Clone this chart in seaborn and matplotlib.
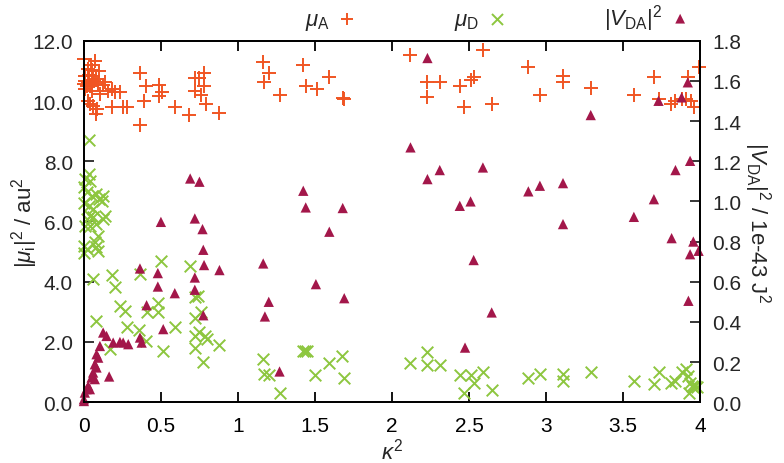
import numpy as np
import pandas as pd
import seaborn as sns
import matplotlib.pyplot as plt
from matplotlib.ticker import FormatStrFormatter

# kappa^2 and |mu_A|^2 (orange +)
kappa_a = [0, 0.071, 0.043, 0.028, 0.05, 0.10, 0.006, 0.034, 0.06, 0.078,
           0.006, 0.028, 0.05, 0.065, 0, 0.017, 0.039, 0.093, 0.125, 0.136,
           0.006, 0.05, 0.104, 0.158, 0.18, 0.2, 0.234, 0.028, 0.039, 0.06,
           0.082, 0.078, 0.18, 0.255, 0.277, 0.364, 0.403, 0.39, 0.364, 0.49,
           0.504, 0.49, 0.59, 0.684, 0.72, 0.75, 0.78, 0.78, 0.72, 0.76,
           0.79, 0.88, 1.164, 1.20, 1.17, 1.27, 1.42, 1.44, 1.51, 1.59,
           1.68, 1.69, 2.12, 2.23, 2.31, 2.225, 2.44, 2.51, 2.53, 2.59,
           2.47, 2.65, 2.885, 2.96, 3.11, 3.11, 3.29, 3.57, 3.70, 3.73,
           3.81, 3.84, 3.88, 3.91, 3.92, 3.94, 3.96, 3.99]
mu_a = [11.40, 11.34, 11.2, 11.06, 11.04, 11.0, 10.84, 10.86, 10.82, 10.73,
        10.67, 10.62, 10.64, 10.67, 10.57, 10.51, 10.49, 10.57, 10.53, 10.62,
        10.4, 10.34, 10.23, 10.34, 10.4, 10.31, 10.31, 10.01, 9.9, 9.82,
        9.73, 9.57, 9.79, 9.79, 9.79, 10.93, 10.51, 10.01, 9.2, 10.53,
        10.29, 10.18, 9.79, 9.53, 10.78, 10.78, 10.92, 10.5, 10.34, 10.2,
        9.9, 9.6, 11.3, 10.92, 10.62, 10.21, 11.2, 10.51, 10.4, 10.81,
        10.1, 10.08, 11.53, 10.62, 10.62, 10.12, 10.51, 10.71, 10.81, 11.7,
        9.81, 9.9, 11.12, 10.21, 10.84, 10.62, 10.42, 10.21, 10.81, 10.07,
        9.9, 10.01, 10.07, 10.07, 10.79, 10.01, 9.79, 11.12]

# kappa^2 and |mu_D|^2 (green x)
kappa_d = [0.03, 0.03, 0.039, 0.006, 0, 0.017, 0.05, 0.08, 0.10, 0.125,
           0.115, 0, 0.03, 0.06, 0.04, 0.017, 0.06, 0.125, 0.136, 0.006,
           0.04, 0.08, 0.093, 0.07, 0.08, 0, 0.017, 0.093, 0, 0.06,
           0.18, 0.2, 0.364, 0.234, 0.266, 0.277, 0.36, 0.40, 0.41, 0.48,
           0.48, 0.515, 0.59, 0.08, 0.17, 0.50, 0.69, 0.72, 0.74, 0.72,
           0.76, 0.72, 0.75, 0.785, 0.80, 0.72, 0.77, 0.88, 1.164, 1.17,
           1.20, 1.27, 1.50, 1.42, 1.435, 1.446, 1.59, 1.677, 1.69, 2.12,
           2.23, 2.23, 2.31, 2.44, 2.51, 2.59, 2.53, 2.47, 2.65, 2.885,
           2.96, 3.11, 3.11, 3.29, 3.57, 3.70, 3.73, 3.81, 3.84, 3.88,
           3.91, 3.92, 3.935, 3.946, 3.925, 3.956, 3.98, 3.97]
mu_d = [8.71, 7.57, 7.35, 7.41, 7.13, 6.97, 6.85, 6.91, 6.74, 6.85,
        6.69, 6.63, 6.52, 6.41, 6.19, 6.08, 6.14, 6.08, 6.19, 5.86,
        5.86, 5.91, 5.52, 5.31, 5.14, 5.19, 5.08, 5.03, 4.97, 4.1,
        4.22, 3.81, 4.25, 3.2, 3.03, 2.51, 2.40, 2.04, 2.98, 3.31,
        2.98, 1.70, 2.51, 2.70, 1.78, 4.69, 4.53, 3.48, 3.53, 2.81,
        2.98, 2.20, 2.32, 2.20, 2.09, 1.79, 1.32, 1.89, 1.43, 0.93,
        0.90, 0.32, 0.90, 1.70, 1.70, 1.70, 1.30, 1.52, 0.80, 1.30,
        1.68, 1.24, 1.24, 0.91, 0.91, 0.99, 0.63, 0.32, 0.41, 0.80,
        0.93, 0.93, 0.71, 0.99, 0.69, 0.62, 0.99, 0.63, 0.71, 0.99,
        1.10, 0.87, 0.65, 0.54, 0.32, 0.49, 0.49, 0.54]

# kappa^2 and |V_DA|^2 in 1e-43 J^2 (maroon triangles, right axis)
kappa_v = [2.23, 2.12, 2.31, 2.23, 2.59, 2.44, 2.51, 2.885, 2.96, 1.424,
           1.44, 1.68, 1.593, 1.506, 1.69, 2.53, 2.647, 2.474, 3.92, 3.88,
           3.73, 3.29, 3.11, 3.11, 3.57, 3.70, 3.84, 3.935, 3.815, 3.956,
           3.935, 3.99, 3.924, 0.69, 0.75, 0.50, 0.72, 0.77, 0.775, 0.78,
           0.88, 1.164, 0.364, 0.48, 0.72, 0.48, 0.72, 0.59, 0.407, 0.775,
           0.515, 1.20, 1.175, 1.27, 0.364, 0.375, 0.19, 0.234, 0.255, 0.288,
           0.125, 0.147, 0.104, 0.164, 0.082, 0.093, 0.071, 0.082, 0.06, 0.05,
           0.071, 0.028, 0.039, 0.006, 0, 0.017, 0]
v_da = [1.714, 1.269, 1.156, 1.111, 1.169, 0.978, 1.0, 1.05, 1.078, 1.053,
        0.97, 0.967, 0.849, 0.588, 0.518, 0.708, 0.447, 0.272, 1.593, 1.518,
        1.501, 1.43, 1.091, 0.887, 0.923, 1.011, 1.156, 1.202, 0.817, 0.80,
        0.737, 0.754, 0.505, 1.114, 1.098, 0.898, 0.915, 0.862, 0.759, 0.683,
        0.658, 0.691, 0.666, 0.643, 0.621, 0.576, 0.56, 0.543, 0.483, 0.433,
        0.364, 0.50, 0.427, 0.153, 0.322, 0.297, 0.297, 0.30, 0.297, 0.289,
        0.347, 0.33, 0.28, 0.128, 0.239, 0.222, 0.189, 0.173, 0.148, 0.123,
        0.115, 0.081, 0.065, 0.048, 0.015, 0.065, 0.006]

col_a = '#f05523'
col_d = '#8dc63f'
col_v = '#a3174a'

sns.set_style('ticks')
plt.rcParams['font.family'] = ['Liberation Sans', 'DejaVu Sans']
plt.rcParams['mathtext.fontset'] = 'custom'
plt.rcParams['mathtext.rm'] = 'Liberation Sans'
plt.rcParams['mathtext.it'] = 'Liberation Sans:italic'
plt.rcParams['mathtext.bf'] = 'Liberation Sans:bold'

fs = 15

fig = plt.figure(figsize=(7.84, 4.64), dpi=100)
ax = fig.add_axes([0.107, 0.131, 0.786, 0.779])
ax2 = ax.twinx()

df_a = pd.DataFrame({'k2': kappa_a, 'val': mu_a})
df_d = pd.DataFrame({'k2': kappa_d, 'val': mu_d})
df_v = pd.DataFrame({'k2': kappa_v, 'val': v_da})

sns.scatterplot(data=df_a, x='k2', y='val', ax=ax, marker='+', s=90,
                color=col_a, linewidth=1.4, legend=False, clip_on=False)
sns.scatterplot(data=df_d, x='k2', y='val', ax=ax, marker='x', s=70,
                color=col_d, linewidth=1.4, legend=False, clip_on=False)
sns.scatterplot(data=df_v, x='k2', y='val', ax=ax2, marker='^', s=55,
                color=col_v, edgecolor='none', legend=False, clip_on=False)

ax.set_xlim(0, 4)
ax.set_ylim(0, 12)
ax2.set_ylim(0, 1.8)
ax.set_xticks([0, 0.5, 1, 1.5, 2, 2.5, 3, 3.5, 4])
ax.set_xticklabels(['0', '0.5', '1', '1.5', '2', '2.5', '3', '3.5', '4'])
ax.set_yticks(np.arange(0, 12.1, 2))
ax2.set_yticks(np.arange(0, 1.81, 0.2))
ax.yaxis.set_major_formatter(FormatStrFormatter('%.1f'))
ax2.yaxis.set_major_formatter(FormatStrFormatter('%.1f'))

for a in (ax, ax2):
    for sp in a.spines.values():
        sp.set_visible(True)
        sp.set_linewidth(1.3)
        sp.set_color('black')
ax.tick_params(axis='x', which='both', direction='in', top=True, length=7, width=1.3,
               labelsize=fs, pad=10, colors='black')
ax.tick_params(axis='y', direction='in', right=False, length=7, width=1.3,
               labelsize=fs, pad=8)
ax2.tick_params(axis='y', direction='in', length=7, width=1.3, labelsize=fs, pad=9)

ax.set_xlabel(r'$\kappa^2$', fontsize=fs + 1)
ax.xaxis.set_label_coords(0.5, -0.097)
ax.set_ylabel(r'$|\mu_\mathrm{i}|^2$ / au$^2$', fontsize=fs + 1)
ax.yaxis.set_label_coords(-0.072, 0.5)
ax2.set_ylabel(r'$|V_\mathrm{DA}|^2$ / 1e-43 J$^2$', fontsize=fs + 1, rotation=-90, va='center')
ax2.yaxis.set_label_coords(1.093, 0.5)

handles = [ax.collections[0], ax.collections[1], ax2.collections[0]]
labels = [r'$\mu_\mathrm{A}$', r'$\mu_\mathrm{D}$', r'$|V_\mathrm{DA}|^2$']
fig.legend(handles, labels, loc='center', bbox_to_anchor=(0.638, 0.96), ncol=3,
           markerfirst=False, frameon=False, fontsize=16, columnspacing=4.1,
           handletextpad=0.1, handlelength=1.4, markerscale=0.95)

fig.savefig('out.png', dpi=100)
